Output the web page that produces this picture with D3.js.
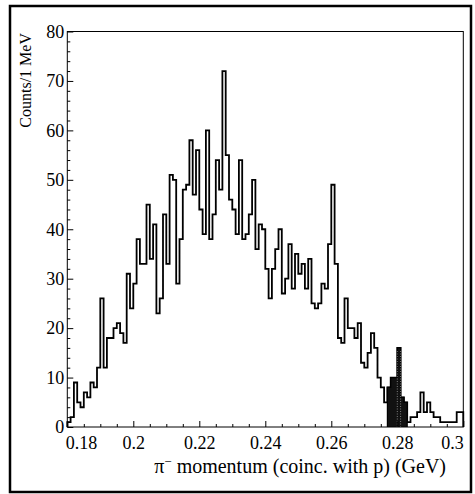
<!DOCTYPE html>
<html lang="en">
<head>
<meta charset="UTF-8">
<script src="https://d3js.org/d3.v7.min.js"></script>
<title>pi- momentum</title>
<style>
  body { margin: 0; background: #fff; }
  text { font-family: "Liberation Serif", "Times New Roman", serif; fill: #000; }
</style>
</head>
<body>
<script>
// histogram: 1 MeV bins from 0.18 to 0.30 GeV
const binStart = 0.18;
const binWidth = 0.001;
const counts = [
  1, 2, 9, 5, 4, 7, 6, 9, 8, 12,
  26, 12, 18, 18, 20, 21, 19, 17, 31, 24,
  29, 38, 33, 33, 45, 34, 41, 23, 26, 43,
  33, 51, 50, 29, 38, 48, 49, 58, 47, 56,
  44, 39, 60, 38, 43, 54, 48, 72, 55, 46,
  44, 39, 54, 38, 39, 43, 50, 36, 41, 40,
  32, 26, 32, 36, 40, 27, 30, 37, 28, 35,
  31, 33, 28, 34, 25, 24, 25, 29, 28, 37,
  49, 33, 18, 17, 26, 20, 20, 18, 21, 13,
  12, 15, 19, 16, 10, 8, 5, 8, 10, 10,
  16, 6, 5, 1, 2, 2, 3, 7, 3, 5,
  3, 2, 2, 1, 1, 1, 1, 1, 3, 3
];
// shaded (coincidence) part
const shadeStart = 0.277;
const shadeCounts = [8, 10, 10, 16, 6, 5];

const xTicks = [0.18, 0.2, 0.22, 0.24, 0.26, 0.28, 0.3];
const xMinor = [0.185, 0.19, 0.195, 0.205, 0.21, 0.215, 0.225, 0.23, 0.235, 0.245, 0.25, 0.255,
                0.265, 0.27, 0.275, 0.285, 0.29, 0.295];
const yTicks = [0, 10, 20, 30, 40, 50, 60, 70, 80];
const yMinor = [2, 4, 6, 8, 12, 14, 16, 18, 22, 24, 26, 28, 32, 34, 36, 38, 42, 44, 46, 48,
                52, 54, 56, 58, 62, 64, 66, 68, 72, 74, 76, 78];

const W = 475, H = 494;
const plotLeft = 67.3, plotRight = 463.3, plotTop = 31.5, plotBottom = 427;

const svg = d3.select("body").append("svg")
    .attr("width", W)
    .attr("height", H);

// outer frame
svg.append("rect")
    .attr("x", 10).attr("y", 6)
    .attr("width", 461).attr("height", 486)
    .attr("fill", "none")
    .attr("stroke", "#000")
    .attr("stroke-width", 2.5);

const x = d3.scaleLinear().domain([0.18, 0.3]).range([plotLeft, plotRight]);
const y = d3.scaleLinear().domain([0, 80]).range([plotBottom, plotTop]);

function stepPoints(start, vals) {
    let pts = [[start, 0]];
    vals.forEach((v, i) => pts.push([start + i * binWidth, v]));
    pts.push([start + vals.length * binWidth, vals[vals.length - 1]]);
    pts.push([start + vals.length * binWidth, 0]);
    return pts;
}

const step = d3.line()
    .x(d => x(d[0]))
    .y(d => y(d[1]))
    .curve(d3.curveStepAfter);

// main histogram
svg.append("path")
    .attr("d", step(stepPoints(binStart, counts)))
    .attr("fill", "none")
    .attr("stroke", "#000")
    .attr("stroke-width", 1.8);

// shaded histogram
svg.append("path")
    .attr("d", step(stepPoints(shadeStart, shadeCounts)))
    .attr("fill", "#111")
    .attr("stroke", "#000")
    .attr("stroke-width", 1.2);

// faint dotted edges of the tallest shaded bin
const peak = shadeCounts.indexOf(d3.max(shadeCounts));
[peak, peak + 1].forEach(k => {
    svg.append("line")
        .attr("x1", x(shadeStart + k * binWidth)).attr("x2", x(shadeStart + k * binWidth))
        .attr("y1", y(0)).attr("y2", y(shadeCounts[peak]) + 2)
        .attr("stroke", "#999")
        .attr("stroke-width", 0.8)
        .attr("stroke-dasharray", "1,1.5");
});

// plot frame
svg.append("rect")
    .attr("x", plotLeft).attr("y", plotTop)
    .attr("width", plotRight - plotLeft).attr("height", plotBottom - plotTop)
    .attr("fill", "none")
    .attr("stroke", "#000")
    .attr("stroke-width", 1);

// x axis
const xAxis = svg.append("g")
    .attr("transform", `translate(0,${plotBottom})`)
    .call(d3.axisBottom(x).tickValues(xTicks).tickSize(-6).tickPadding(9)
        .tickFormat(d3.format("~g")));
svg.append("g")
    .attr("transform", `translate(0,${plotBottom})`)
    .call(d3.axisBottom(x).tickValues(xMinor).tickSize(-3).tickFormat(""));

// y axis
const yAxis = svg.append("g")
    .attr("transform", `translate(${plotLeft},0)`)
    .call(d3.axisLeft(y).tickValues(yTicks).tickSize(-6).tickPadding(3));
svg.append("g")
    .attr("transform", `translate(${plotLeft},0)`)
    .call(d3.axisLeft(y).tickValues(yMinor).tickSize(-3).tickFormat(""));

svg.selectAll(".domain").remove();
svg.selectAll("g").attr("font-family", null);
svg.selectAll(".tick line").attr("stroke", "#000").attr("stroke-width", 1);
svg.selectAll(".tick text")
    .style("font-family", '"Liberation Serif", "Times New Roman", serif')
    .style("font-size", "18px")
    .attr("fill", "#000");

// end labels pulled inside the axis range
xAxis.selectAll(".tick text")
    .filter(d => d === 0.18).attr("text-anchor", "start").attr("dx", -2);
xAxis.selectAll(".tick text")
    .filter(d => d === 0.3).attr("text-anchor", "end");

// axis titles
svg.append("text")
    .attr("transform", "translate(31,33) rotate(-90)")
    .attr("text-anchor", "end")
    .style("font-size", "16px")
    .text("Counts/1 MeV");

const xt = svg.append("text")
    .attr("x", 446).attr("y", 473)
    .attr("text-anchor", "end")
    .style("font-size", "20px");
xt.append("tspan").text("\u03c0");
xt.append("tspan").attr("dy", -7).style("font-size", "13px").text("\u2212");
xt.append("tspan").attr("dy", 7).text(" momentum (coinc. with p) (GeV)");
</script>
</body>
</html>
